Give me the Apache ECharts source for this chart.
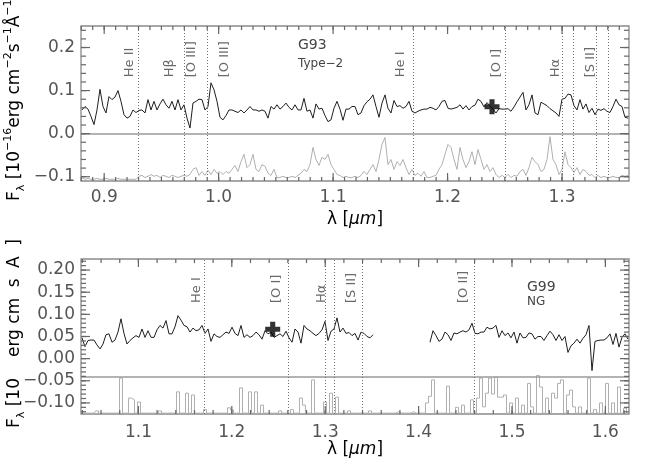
<!DOCTYPE html>
<html>
<head>
<meta charset="utf-8">
<script src="https://cdn.jsdelivr.net/npm/echarts@6/dist/echarts.min.js"></script>
<style>
html, body { margin: 0; padding: 0; background: #fff; }
#chart { width: 654px; height: 467px; }
</style>
</head>
<body>
<div id="chart"></div>
<script>
// ---- G93, Type-2 (upper panel) ----
// spectrum sampled on a regular wavelength grid (micron)
var g93Lam0 = 0.88062, g93Step = 0.002621;
var g93Flux = [0.055,0.063,0.057,0.040,0.021,0.055,0.103,0.063,0.048,0.086,
  0.079,0.085,0.100,0.075,0.044,0.036,0.040,0.055,0.049,0.054,
  0.055,0.048,0.079,0.055,0.075,0.055,0.069,0.080,0.067,0.059,
  0.075,0.055,0.079,0.055,0.067,0.036,0.013,0.071,0.075,0.080,
  0.079,0.055,0.063,0.118,0.102,0.075,0.038,0.032,0.042,0.055,
  0.055,0.052,0.049,0.055,0.048,0.055,0.063,0.055,0.055,0.052,
  0.055,0.052,0.036,
  0.063,0.057,0.067,0.057,0.063,0.071,0.061,0.055,0.067,0.055,
  0.055,0.082,0.052,0.055,0.036,0.069,0.057,0.059,0.042,0.028,
  0.032,0.059,0.075,0.057,0.031,0.057,0.057,0.063,0.063,0.044,
  0.048,0.065,0.074,0.080,0.090,0.063,0.038,0.071,0.090,0.059,
  0.048,0.077,0.063,0.065,0.059,0.063,0.075,0.052,0.048,0.052,
  0.055,0.057,0.057,0.061,0.059,0.055,0.063,0.075,0.077,0.059,
  0.057,
  0.059,0.061,0.067,0.057,0.065,0.055,0.063,0.066,0.080,0.075,
  0.062,0.072,0.065,0.057,0.048,0.058,0.057,0.057,0.058,0.052,
  0.062,0.074,0.085,0.096,0.055,0.067,0.090,0.048,0.044,0.073,
  0.069,0.065,0.058,0.053,0.048,0.040,0.080,0.082,0.092,0.090,
  0.065,0.055,0.079,0.057,0.069,0.049,0.059,0.044,0.057,0.054,
  0.058,0.052,0.049,0.063,0.080,0.067,0.063,0.038,0.036];
var g93Noise = [-0.102,-0.106,-0.104,-0.106,-0.106,-0.104,-0.106,-0.106,-0.104,-0.106,
  -0.106,-0.106,-0.104,-0.106,-0.106,-0.106,-0.106,-0.106,-0.106,-0.099,
  -0.097,-0.102,-0.099,-0.095,-0.099,-0.097,-0.102,-0.097,-0.099,-0.102,
  -0.097,-0.099,-0.102,-0.099,-0.097,-0.099,-0.095,-0.083,-0.079,-0.097,
  -0.088,-0.097,-0.085,-0.095,-0.083,-0.092,-0.088,-0.095,-0.088,-0.092,
  -0.083,-0.074,-0.088,-0.065,-0.048,-0.079,-0.072,-0.048,-0.083,-0.088,
  -0.072,-0.076,-0.092,-0.097,-0.083,-0.102,-0.102,-0.099,-0.102,-0.102,
  -0.099,-0.102,-0.097,-0.092,-0.083,-0.088,-0.072,-0.032,-0.060,-0.074,
  -0.055,-0.060,-0.048,-0.072,-0.083,-0.095,-0.097,-0.102,-0.099,-0.102,
  -0.102,-0.099,-0.102,-0.097,-0.088,-0.095,-0.083,-0.072,-0.088,-0.060,
  -0.025,-0.009,-0.072,-0.060,-0.083,-0.065,-0.074,-0.060,-0.079,-0.095,
  -0.083,-0.097,-0.092,-0.099,-0.088,-0.102,-0.102,-0.099,-0.097,-0.083,
  -0.072,-0.048,-0.025,-0.032,-0.060,-0.083,-0.032,-0.060,-0.079,-0.065,
  -0.042,-0.072,-0.037,-0.060,-0.083,-0.072,-0.088,-0.079,-0.095,-0.102,
  -0.097,-0.102,-0.095,-0.102,-0.097,-0.099,-0.088,-0.083,-0.097,-0.079,
  -0.055,-0.065,-0.072,-0.088,-0.083,-0.060,-0.007,-0.060,-0.072,-0.095,
  -0.083,-0.042,-0.072,-0.079,-0.090,-0.079,-0.095,-0.083,-0.088,-0.097,
  -0.095,-0.102,-0.097,-0.102,-0.099,-0.102,-0.102,-0.099,-0.102,-0.102,
  -0.097,-0.099,-0.097];
var g93LineLam = [0.93068, 0.96624, 0.98520, 0.99481, 1.16718, 1.25106, 1.30016, 1.30217, 1.30741, 1.33318, 1.33598];
var g93LabelNames = ['He II', 'H\u03b2', '[O III]', '[O III]', 'He I', '[O I]', 'H\u03b1', '[S II]'];
var g93LabelLam = [0.92258, 0.95707, 0.97673, 1.00556, 1.15932, 1.24319, 1.29474, 1.32532];
var g93LabelFlux = [0.131, 0.131, 0.131, 0.131, 0.131, 0.131, 0.131, 0.131];
var g93Cross = [1.23883, 0.0624];

// ---- G99, NG (lower panel) ----
var g99Step = 0.0032124;
var g99Lam0a = 1.03958;
var g99FluxA = [0.047,0.027,0.041,0.042,0.042,0.031,0.022,0.033,0.054,0.056,
  0.037,0.042,0.060,0.090,0.057,0.033,0.041,0.047,0.052,0.048,
  0.067,0.048,0.063,0.048,0.048,0.065,0.075,0.069,0.086,0.056,
  0.056,0.072,0.097,0.087,0.075,0.072,0.060,0.069,0.063,0.065,
  0.075,0.057,0.067,0.039,0.056,0.050,0.048,0.054,0.060,0.057,
  0.071,0.057,0.052,0.075,0.048,0.054,0.048,0.052,0.060,0.054,
  0.044,0.063,0.056,
  0.060,0.048,0.052,0.056,0.050,0.062,0.047,0.037,0.067,0.060,
  0.035,0.075,0.067,0.063,0.057,0.052,0.057,0.065,0.084,0.041,
  0.062,0.067,0.092,0.060,0.069,0.057,0.059,0.052,0.057,0.042,
  0.060,0.057,0.050,0.047,0.054];
var g99Lam0b = 1.41221;
var g99FluxB = [0.037,0.063,0.052,0.039,0.044,0.060,0.054,0.041,0.058,0.056,
  0.060,0.063,0.060,0.065,0.080,0.057,0.056,0.060,0.060,0.071,
  0.067,0.069,0.075,0.048,0.063,0.052,0.058,0.047,0.060,0.035,
  0.058,0.047,0.048,0.058,0.056,0.044,0.050,0.050,0.041,0.052,
  0.062,0.054,0.041,0.054,0.041,0.050,0.014,0.029,0.035,0.044,
  0.035,0.046,0.054,0.075,-0.027,0.039,0.041,0.042,0.042,0.047,
  0.056,0.032,0.057,0.026,0.048,0.056,0.044];
var g99Noise = [-0.123,-0.123,-0.123,-0.123,-0.123,-0.118,-0.123,-0.123,-0.123,-0.123,
  -0.123,-0.123,-0.123,-0.044,-0.123,-0.123,-0.089,-0.093,-0.123,-0.098,
  -0.123,-0.123,-0.123,-0.123,-0.123,-0.123,-0.118,-0.123,-0.123,-0.123,
  -0.123,-0.123,-0.075,-0.123,-0.123,-0.078,-0.123,-0.082,-0.123,-0.123,
  -0.123,-0.115,-0.123,-0.123,-0.123,-0.123,-0.123,-0.123,-0.123,-0.111,
  -0.116,-0.123,-0.123,-0.066,-0.123,-0.123,-0.075,-0.123,-0.075,-0.123,
  -0.105,-0.123,-0.123,-0.123,-0.123,-0.123,-0.118,-0.123,-0.123,-0.123,
  -0.115,-0.123,-0.123,-0.089,-0.105,-0.123,-0.123,-0.048,-0.123,-0.123,
  -0.123,-0.098,-0.123,-0.078,-0.123,-0.087,-0.123,-0.123,-0.123,-0.118,
  -0.123,-0.123,-0.123,-0.123,-0.123,-0.123,-0.118,-0.123,-0.123,-0.123,
  -0.123,-0.123,-0.123,-0.123,-0.123,-0.120,-0.123,-0.123,-0.123,-0.123,
  -0.120,-0.123,-0.123,-0.123,-0.123,-0.100,-0.085,-0.048,-0.123,-0.123,
  -0.123,-0.123,-0.062,-0.123,-0.123,-0.110,-0.123,-0.105,-0.123,-0.123,
  -0.093,-0.123,-0.089,-0.044,-0.109,-0.078,-0.044,-0.080,-0.042,-0.087,
  -0.087,-0.082,-0.123,-0.100,-0.123,-0.089,-0.123,-0.105,-0.123,-0.056,
  -0.109,-0.123,-0.038,-0.064,-0.123,-0.089,-0.123,-0.078,-0.089,-0.056,
  -0.048,-0.123,-0.082,-0.071,-0.109,-0.123,-0.109,-0.123,-0.123,-0.044,
  -0.123,-0.115,-0.123,-0.100,-0.123,-0.056,-0.123,-0.100,-0.123,-0.064,
  -0.123,-0.112,-0.123];
var g99NoiseLam0 = 1.03958;
var g99LineLam = [1.17054, 1.25513, 1.30481, 1.30728, 1.31156, 1.33758, 1.34015, 1.45772];
var g99LabelNames = ['He I', '[O I]', 'H\u03b1', '[S II]', '[O II]'];
var g99LabelLam = [1.16273, 1.24838, 1.29657, 1.32869, 1.44862];
var g99LabelFlux = [0.1256, 0.1256, 0.1256, 0.1256, 0.1256];
var g99Cross = [1.24378, 0.0663];

// axis ranges and tick values
var topX = [0.87975, 1.35852], topY = [-0.11, 0.25];
var botX = [1.03851, 1.6253], botY = [-0.125, 0.225];
var topXTicks = [0.9, 1.0, 1.1, 1.2, 1.3];
var topYTicks = [-0.1, 0.0, 0.1, 0.2];
var botXTicks = [1.1, 1.2, 1.3, 1.4, 1.5, 1.6];
var botYTicks = [-0.10, -0.05, 0.00, 0.05, 0.10, 0.15, 0.20];

var FONT = 'DejaVu Sans';
var FRAME = '#8a8a8a';
var TICK = '#666';
var TXT = '#555';
var PLOT_W = 548, PLOT_H = 155;

function pairs(lam0, step, arr) {
    return arr.map(function (v, i) { return [lam0 + i * step, v]; });
}
function steps(a, b, d) {
    var out = [];
    for (var v = Math.ceil(a / d - 1e-9) * d; v <= b + 1e-9; v += d) {
        var r = Math.round(v * 1000) / 1000;
        if (r > a && r < b) out.push(r);
    }
    return out;
}
function fmt(dec) {
    return function (v) {
        var s = Math.abs(v).toFixed(dec);
        return (v < -1e-9 ? '\u2212' : '') + s;
    };
}
function xAxis(gi, range, major, dec, margin) {
    return {
        gridIndex: gi, type: 'value', min: range[0], max: range[1],
        axisLine: { show: false, onZero: false }, splitLine: { show: false }, axisTick: { show: false },
        axisLabel: { show: true, customValues: major, formatter: fmt(dec), margin: margin,
            fontFamily: FONT, fontSize: 17, color: TXT }
    };
}
function yAxis(gi, range, major, dec) {
    return {
        gridIndex: gi, type: 'value', min: range[0], max: range[1],
        axisLine: { show: false, onZero: false }, splitLine: { show: false }, axisTick: { show: false },
        axisLabel: { show: true, customValues: major, formatter: fmt(dec), margin: 6,
            fontFamily: FONT, fontSize: 17, color: TXT }
    };
}

// inward frame ticks, one short line series per tick
function tickSeries(gi, xr, yr, xMaj, xMin, yMaj, yMin) {
    var out = [];
    var dy = (yr[1] - yr[0]) / PLOT_H, dx = (xr[1] - xr[0]) / PLOT_W;
    function seg(a, b) {
        out.push({
            type: 'line', xAxisIndex: gi, yAxisIndex: gi, data: [a, b], showSymbol: false,
            lineStyle: { color: TICK, width: 1.2 }, z: 8, silent: true, clip: false
        });
    }
    [[xMaj, 8], [xMin, 4]].forEach(function (g) {
        g[0].forEach(function (v) {
            seg([v, yr[0]], [v, yr[0] + g[1] * dy]);
            seg([v, yr[1]], [v, yr[1] - g[1] * dy]);
        });
    });
    [[yMaj, 9], [yMin, 5]].forEach(function (g) {
        g[0].forEach(function (v) {
            seg([xr[0], v], [xr[0] + g[1] * dx, v]);
            seg([xr[1], v], [xr[1] - g[1] * dx, v]);
        });
    });
    return out;
}

function panelSeries(gi, flux, noise, noiseStep, zeroY, lineLam, labNames, labLam, labFlux, cross) {
    var out = [];
    out.push({
        type: 'line', xAxisIndex: gi, yAxisIndex: gi, data: noise, showSymbol: false,
        step: noiseStep, lineStyle: { color: '#b0b0b0', width: 1 }, z: 1, silent: true,
        markLine: {
            silent: true, symbol: ['none', 'none'], label: { show: false },
            lineStyle: { color: '#9a9a9a', width: 1.5, type: 'solid' },
            data: [{ yAxis: zeroY }]
        }
    });
    flux.forEach(function (d) {
        out.push({
            type: 'line', xAxisIndex: gi, yAxisIndex: gi, data: d, showSymbol: false,
            lineStyle: { color: '#1e1e1e', width: 1 }, z: 3, silent: true
        });
    });
    out.push({
        type: 'scatter', xAxisIndex: gi, yAxisIndex: gi, symbolSize: 0, silent: true, z: 4,
        data: labNames.map(function (n, i) { return [labLam[i], labFlux[i], n]; }),
        label: {
            show: true, formatter: function (p) { return p.data[2]; },
            position: [0, 0], rotate: 90, align: 'left', verticalAlign: 'middle',
            fontFamily: FONT, fontSize: 13, color: '#444'
        },
        markLine: {
            silent: true, symbol: ['none', 'none'], label: { show: false },
            lineStyle: { color: '#707070', width: 1, type: [1, 2] },
            data: lineLam.map(function (v) { return { xAxis: v }; })
        }
    });
    out.push({
        type: 'scatter', xAxisIndex: gi, yAxisIndex: gi, z: 6, silent: true,
        symbol: 'path://M3.3,0h3.4v3.3h3.3v3.4h-3.3v3.3h-3.4v-3.3h-3.3v-3.4h3.3z',
        symbolSize: 15, itemStyle: { color: '#000' },
        data: [cross]
    });
    return out;
}

var yName = '{t|F}{s|\u03bb}{t| [10}{p|\u221216}{t|erg cm}{p|\u22122}{t|s}{p|\u22121}{t|\u00c5}{p|\u22121}{t|]}';
var yNameCut = '{t|F}{s|\u03bb}{t| [10}{p|      }{t|erg cm}{p|   }{t|s}{p|   }{t|A}{p|   }{t|]}';
var richY = {
    t: { fontFamily: FONT, fontSize: 17, color: TXT, lineHeight: 24 },
    s: { fontFamily: FONT, fontSize: 11, color: TXT, lineHeight: 11, verticalAlign: 'bottom' },
    p: { fontFamily: FONT, fontSize: 11, color: TXT, lineHeight: 11, verticalAlign: 'top' }
};
var xName = '{t|\u03bb [}{i|\u03bcm}{t|]}';
var richX = {
    t: { fontFamily: FONT, fontSize: 17, color: TXT },
    i: { fontFamily: FONT, fontSize: 17, color: TXT, fontStyle: 'italic' }
};

var chart = echarts.init(document.getElementById('chart'), null, { renderer: 'canvas' });
chart.setOption({
    animation: false,
    backgroundColor: '#fff',
    grid: [
        { left: 81, top: 26, width: PLOT_W, height: PLOT_H, show: true, borderColor: FRAME, borderWidth: 1.3, backgroundColor: 'transparent' },
        { left: 81, top: 259, width: PLOT_W, height: PLOT_H, show: true, borderColor: FRAME, borderWidth: 1.3, backgroundColor: 'transparent' }
    ],
    xAxis: [xAxis(0, topX, topXTicks, 1, 8), xAxis(1, botX, botXTicks, 1, 10)],
    yAxis: [yAxis(0, topY, topYTicks, 1), yAxis(1, botY, botYTicks, 2)],
    series: panelSeries(0, [pairs(g93Lam0, g93Step, g93Flux)], pairs(g93Lam0, g93Step, g93Noise), false, 0,
            g93LineLam, g93LabelNames, g93LabelLam, g93LabelFlux, g93Cross)
        .concat(panelSeries(1, [pairs(g99Lam0a, g99Step, g99FluxA), pairs(g99Lam0b, g99Step, g99FluxB)],
            pairs(g99NoiseLam0, g99Step, g99Noise), 'middle', -0.038,
            g99LineLam, g99LabelNames, g99LabelLam, g99LabelFlux, g99Cross))
        .concat(tickSeries(0, topX, topY, topXTicks, steps(topX[0], topX[1], 0.01), topYTicks, steps(topY[0], topY[1], 0.02)))
        .concat(tickSeries(1, botX, botY, botXTicks, steps(botX[0], botX[1], 0.02), botYTicks, steps(botY[0], botY[1], 0.01))),
    graphic: [
        { type: 'text', x: 15, y: 201, rotation: Math.PI / 2, silent: true,
          style: { text: yName, rich: richY, align: 'left', verticalAlign: 'middle' } },
        { type: 'text', x: 15, y: 428, rotation: Math.PI / 2, silent: true,
          style: { text: yNameCut, rich: richY, align: 'left', verticalAlign: 'middle' } },
        { type: 'text', x: 355, y: 220, silent: true,
          style: { text: xName, rich: richX, align: 'center', verticalAlign: 'middle' } },
        { type: 'text', x: 355, y: 450, silent: true,
          style: { text: xName, rich: richX, align: 'center', verticalAlign: 'middle' } },
        { type: 'text', x: 298, y: 45, silent: true,
          style: { text: 'G93', fontFamily: FONT, fontSize: 14, fill: '#444', align: 'left', verticalAlign: 'middle' } },
        { type: 'text', x: 298, y: 64, silent: true,
          style: { text: 'Type\u22122', fontFamily: FONT, fontSize: 12, fill: '#444', align: 'left', verticalAlign: 'middle' } },
        { type: 'text', x: 527, y: 287, silent: true,
          style: { text: 'G99', fontFamily: FONT, fontSize: 14, fill: '#444', align: 'left', verticalAlign: 'middle' } },
        { type: 'text', x: 527, y: 302, silent: true,
          style: { text: 'NG', fontFamily: FONT, fontSize: 12, fill: '#444', align: 'left', verticalAlign: 'middle' } }
    ]
});
</script>
</body>
</html>
